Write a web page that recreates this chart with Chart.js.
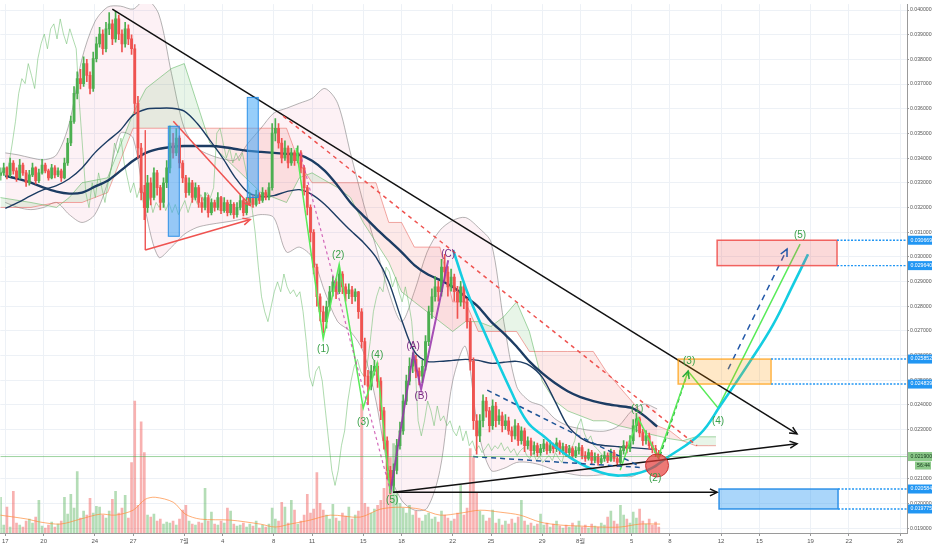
<!DOCTYPE html>
<html><head><meta charset="utf-8">
<script src="https://cdn.jsdelivr.net/npm/chart.js@4.4.1/dist/chart.umd.min.js"></script>
<style>html,body{margin:0;padding:0;background:#fff;}canvas{display:block;}</style>
</head><body>
<canvas id="c" width="932" height="550"></canvas>
<script>
// ---------- time axis ----------
const xTickDays = [0,3,7,10,14,17,21,24,28,31,35,38,42,45,49,52,56,59,63,66,70];
const xTickLabels = ['17','20','24','27','7월','4','8','11','15','18','22','25','29','8월','5','8','12','15','19','22','26'];
const yTickValues = [0.019,0.020,0.021,0.022,0.023,0.024,0.025,0.026,0.027,0.028,0.029,0.030,0.031,0.032,0.033,0.034,0.035,0.036,0.037,0.038,0.039,0.040];
const candleStartDay = -0.375, candleStepDays = 0.25, laggingShiftDays = 4.33;

// ---------- candles ----------
const firstOpen = 0.03330;
const closes = [
0.03340,0.03360,0.03332,0.03380,0.03348,0.03320,0.03372,0.03340,0.03300,0.03332,
0.03360,0.03308,0.03340,0.03372,0.03348,0.03320,0.03360,0.03332,0.03348,0.03320,
0.03380,0.03461,0.03549,0.03662,0.03722,0.03702,0.03783,0.03735,0.03682,0.03803,
0.03863,0.03903,0.03843,0.03924,0.03944,0.03883,0.03964,0.03903,0.03863,0.03924,
0.03883,0.03843,0.03622,0.03441,0.03260,0.03199,0.03300,0.03240,0.03340,0.03280,
0.03220,0.03300,0.03360,0.03461,0.03421,0.03481,0.03380,0.03320,0.03260,0.03300,
0.03240,0.03280,0.03220,0.03200,0.03240,0.03179,0.03220,0.03200,0.03240,0.03187,
0.03220,0.03179,0.03212,0.03171,0.03200,0.03228,0.03179,0.03220,0.03240,0.03212,
0.03252,0.03228,0.03260,0.03240,0.03280,0.03501,0.03521,0.03461,0.03401,0.03441,
0.03380,0.03421,0.03389,0.03421,0.03360,0.03280,0.03200,0.03099,0.02958,0.02838,
0.02777,0.02737,0.02797,0.02858,0.02898,0.02858,0.02930,0.02878,0.02850,0.02866,
0.02838,0.02858,0.02777,0.02656,0.02516,0.02475,0.02536,0.02556,0.02496,0.02375,
0.02254,0.02134,0.02073,0.02134,0.02234,0.02294,0.02415,0.02496,0.02556,0.02584,
0.02536,0.02516,0.02556,0.02656,0.02777,0.02838,0.02878,0.02858,0.02958,0.02938,
0.02878,0.02918,0.02858,0.02817,0.02878,0.02817,0.02737,0.02576,0.02335,0.02274,
0.02335,0.02415,0.02375,0.02315,0.02395,0.02335,0.02355,0.02315,0.02335,0.02294,
0.02274,0.02315,0.02254,0.02294,0.02234,0.02254,0.02214,0.02234,0.02206,0.02222,
0.02242,0.02214,0.02234,0.02222,0.02246,0.02214,0.02230,0.02206,0.02222,0.02194,
0.02214,0.02226,0.02194,0.02182,0.02206,0.02174,0.02190,0.02166,0.02182,0.02194,
0.02174,0.02206,0.02182,0.02166,0.02214,0.02234,0.02222,0.02254,0.02315,0.02343,
0.02286,0.02254,0.02274,0.02234,0.02222,0.02206,0.02190];
const highs = [
0.03360,0.03380,0.03365,0.03400,0.03390,0.03360,0.03395,0.03380,0.03350,0.03350,
0.03380,0.03365,0.03355,0.03395,0.03380,0.03355,0.03375,0.03370,0.03360,0.03355,
0.03400,0.03480,0.03570,0.03690,0.03750,0.03760,0.03810,0.03800,0.03750,0.03830,
0.03890,0.03930,0.03920,0.03950,0.03990,0.03960,0.03995,0.03980,0.03920,0.03950,
0.03940,0.03900,0.03860,0.03650,0.03460,0.03290,0.03330,0.03320,0.03360,0.03350,
0.03290,0.03320,0.03390,0.03530,0.03500,0.03520,0.03490,0.03390,0.03330,0.03320,
0.03310,0.03300,0.03290,0.03240,0.03260,0.03250,0.03235,0.03230,0.03260,0.03245,
0.03240,0.03230,0.03230,0.03220,0.03220,0.03250,0.03235,0.03240,0.03260,0.03250,
0.03270,0.03260,0.03280,0.03270,0.03300,0.03540,0.03560,0.03540,0.03480,0.03470,
0.03450,0.03440,0.03430,0.03450,0.03430,0.03370,0.03290,0.03210,0.03110,0.02970,
0.02850,0.02800,0.02820,0.02880,0.02920,0.02910,0.02955,0.02940,0.02890,0.02890,
0.02880,0.02870,0.02860,0.02790,0.02670,0.02540,0.02560,0.02580,0.02570,0.02510,
0.02390,0.02270,0.02150,0.02160,0.02260,0.02330,0.02440,0.02520,0.02590,0.02610,
0.02600,0.02550,0.02580,0.02680,0.02800,0.02870,0.02920,0.02900,0.02990,0.03010,
0.02960,0.02950,0.02930,0.02880,0.02900,0.02890,0.02830,0.02750,0.02590,0.02360,
0.02360,0.02440,0.02430,0.02390,0.02420,0.02410,0.02380,0.02370,0.02360,0.02350,
0.02310,0.02340,0.02325,0.02310,0.02305,0.02270,0.02265,0.02250,0.02245,0.02240,
0.02260,0.02250,0.02255,0.02245,0.02265,0.02255,0.02245,0.02240,0.02235,0.02230,
0.02230,0.02245,0.02235,0.02210,0.02220,0.02215,0.02205,0.02200,0.02195,0.02210,
0.02205,0.02220,0.02215,0.02195,0.02230,0.02255,0.02250,0.02275,0.02340,0.02365,
0.02350,0.02300,0.02295,0.02285,0.02250,0.02235,0.02215];
const lows = [
0.03310,0.03330,0.03315,0.03325,0.03335,0.03305,0.03315,0.03330,0.03285,0.03290,
0.03325,0.03295,0.03300,0.03335,0.03340,0.03310,0.03315,0.03320,0.03325,0.03305,
0.03315,0.03370,0.03450,0.03540,0.03640,0.03680,0.03690,0.03710,0.03660,0.03670,
0.03790,0.03850,0.03820,0.03830,0.03900,0.03860,0.03870,0.03880,0.03830,0.03850,
0.03860,0.03820,0.03580,0.03400,0.03230,0.03150,0.03180,0.03210,0.03230,0.03250,
0.03190,0.03200,0.03280,0.03340,0.03400,0.03410,0.03360,0.03300,0.03240,0.03250,
0.03220,0.03230,0.03200,0.03180,0.03190,0.03160,0.03170,0.03185,0.03190,0.03175,
0.03180,0.03165,0.03170,0.03155,0.03160,0.03190,0.03165,0.03170,0.03210,0.03200,
0.03205,0.03215,0.03220,0.03230,0.03230,0.03270,0.03470,0.03440,0.03380,0.03390,
0.03360,0.03370,0.03370,0.03380,0.03340,0.03250,0.03170,0.03060,0.02930,0.02800,
0.02740,0.02690,0.02710,0.02780,0.02840,0.02830,0.02850,0.02850,0.02820,0.02830,
0.02810,0.02820,0.02750,0.02630,0.02480,0.02400,0.02460,0.02520,0.02470,0.02340,
0.02220,0.02100,0.02040,0.02050,0.02120,0.02220,0.02280,0.02400,0.02480,0.02530,
0.02510,0.02480,0.02490,0.02540,0.02640,0.02750,0.02820,0.02820,0.02840,0.02900,
0.02840,0.02860,0.02820,0.02750,0.02800,0.02790,0.02710,0.02540,0.02300,0.02200,
0.02250,0.02310,0.02350,0.02290,0.02300,0.02310,0.02320,0.02290,0.02300,0.02280,
0.02250,0.02260,0.02235,0.02240,0.02210,0.02220,0.02195,0.02200,0.02190,0.02195,
0.02210,0.02200,0.02205,0.02205,0.02210,0.02200,0.02200,0.02190,0.02195,0.02180,
0.02185,0.02200,0.02180,0.02170,0.02175,0.02160,0.02165,0.02155,0.02160,0.02170,
0.02165,0.02170,0.02170,0.02150,0.02160,0.02200,0.02205,0.02210,0.02240,0.02290,
0.02270,0.02235,0.02240,0.02220,0.02205,0.02190,0.02180];
const volumes = [
36,8,26,6,42,10,8,6,12,14, 10,16,33,7,5,8,11,6,9,12,
36,19,39,25,62,15,22,18,35,20, 27,26,18,15,22,34,42,20,25,38,
15,71,133,28,112,81,18,16,19,12, 14,9,11,10,12,8,14,23,28,12,
9,8,11,10,45,12,21,9,8,12, 10,25,22,9,7,8,10,6,9,7,
12,5,8,6,9,25,14,12,31,26, 10,33,23,9,12,18,39,20,24,61,
30,23,18,14,29,15,12,20,17,26, 14,18,22,130,30,26,20,24,28,33,
45,60,76,90,40,30,25,20,28,18, 22,15,12,18,20,14,16,11,22,18,
15,12,14,20,48,18,25,85,76,40, 22,18,12,15,23,10,14,8,12,9,
14,10,16,33,12,8,10,7,9,19, 8,10,6,9,12,7,5,8,6,10,
7,12,6,8,5,9,7,6,10,8, 16,22,12,9,28,18,14,10,21,15,
24,12,9,14,8,11,6];
const volumeMADays = [-0.4,1.72,2.74,4.3,5.87,7.43,8.6,10.0,10.95,11.73,13.14,14.08,15.25,17.6,19.94,21.12,22.29,23.85,25.42,27.76,29.33,30.89,32.46,34.02,35.59,37.15,38.71,40.28,41.84,43.41,44.97,46.54,48.1,49.66,51.23];
const volumeMA = [18,14,11,9,14,19,18,23,34,36,31,19,14,13,9,6,9,13,18,16,24,26,24,18,20,23,21,18,11,8,7,6,6,9,9];

// ---------- indicators (one sample per day, day 0 = Jun 17) ----------
const maSlow = [0.03328,0.03316,0.03300,0.03280,0.03264,0.03256,0.03260,0.03284,0.03308,0.03348,0.03389,0.03421,0.03437,0.03445,0.03449,0.03449,0.03449,0.03445,0.03437,0.03429,0.03425,0.03421,0.03417,0.03413,0.03389,0.03348,0.03288,0.03220,0.03167,0.03115,0.03067,0.03019,0.02966,0.02930,0.02906,0.02878,0.02838,0.02797,0.02737,0.02689,0.02636,0.02576,0.02528,0.02488,0.02455,0.02431,0.02415,0.02403,0.02395,0.02387,0.02355,0.02311];
const maFast = [0.03196,0.03220,0.03248,0.03272,0.03288,0.03316,0.03360,0.03421,0.03469,0.03513,0.03574,0.03598,0.03602,0.03602,0.03590,0.03541,0.03473,0.03401,0.03320,0.03260,0.03244,0.03248,0.03264,0.03272,0.03252,0.03212,0.03159,0.03107,0.03059,0.02998,0.02898,0.02745,0.02616,0.02576,0.02576,0.02580,0.02584,0.02580,0.02568,0.02572,0.02576,0.02560,0.02512,0.02415,0.02315,0.02266,0.02242,0.02234,0.02230,0.02226,0.02222,0.02218];
const bbUpper = [0.03421,0.03413,0.03401,0.03393,0.03413,0.03541,0.03803,0.03952,0.04012,0.04016,0.04004,0.04044,0.03984,0.03743,0.03521,0.03441,0.03413,0.03397,0.03393,0.03461,0.03521,0.03582,0.03602,0.03622,0.03642,0.03682,0.03622,0.03421,0.03220,0.03039,0.02858,0.02737,0.02858,0.03019,0.03107,0.03147,0.03159,0.03119,0.03059,0.02737,0.02475,0.02415,0.02395,0.02343,0.02315,0.02303,0.02294,0.02294,0.02315,0.02375,0.02403,0.02383];
const bbLower = [0.03220,0.03200,0.03191,0.03200,0.03220,0.03171,0.03139,0.03171,0.03300,0.03501,0.03481,0.03179,0.02998,0.03039,0.03091,0.03119,0.03131,0.03139,0.03147,0.03159,0.03171,0.03159,0.03019,0.03039,0.02998,0.02858,0.02737,0.02697,0.02616,0.02415,0.02134,0.02013,0.01973,0.01981,0.02134,0.02496,0.02636,0.02294,0.02134,0.02142,0.02166,0.02166,0.02154,0.02134,0.02122,0.02113,0.02113,0.02117,0.02113,0.02109,0.02134,0.02150];
const cloudDays = [-0.4,2,4,5,6,8,10,11,13,14,15,16,18,20,21,22,23,24,26,27,28,29,30,31,32,33,34,35,36,37,38,39,40,41,42,43,44,45,46,47,48,49,50,51,52,53,54,55,55.6];
const spanA = [0.03240,0.03220,0.03200,0.03240,0.03300,0.03320,0.03582,0.03682,0.03763,0.03783,0.03622,0.03461,0.03360,0.03260,0.03240,0.03220,0.03320,0.03340,0.03280,0.03240,0.03139,0.03059,0.02978,0.02858,0.02817,0.02777,0.02737,0.02697,0.02737,0.02737,0.02717,0.02757,0.02817,0.02697,0.02496,0.02415,0.02375,0.02355,0.02335,0.02335,0.02315,0.02303,0.02286,0.02274,0.02262,0.02254,0.02270,0.02270,0.02270];
const spanB = [0.03200,0.03200,0.03220,0.03220,0.03220,0.03260,0.03521,0.03521,0.03521,0.03521,0.03521,0.03521,0.03521,0.03521,0.03521,0.03521,0.03380,0.03300,0.03300,0.03300,0.03300,0.03300,0.03139,0.03139,0.03039,0.03039,0.03039,0.02817,0.02817,0.02697,0.02697,0.02697,0.02697,0.02616,0.02616,0.02616,0.02616,0.02616,0.02616,0.02536,0.02475,0.02415,0.02355,0.02315,0.02294,0.02254,0.02234,0.02234,0.02234];

// ---------- drawings: [day, price] ----------
const mainTrendTop = [[8.37,0.04004],[61.94,0.02282]];
const lowerTrend = [[30.35,0.02045],[61.94,0.02242]];
const supportArrow = [[30.35,0.02045],[55.69,0.02045]];
const redDashedTrend = [[21.74,0.03570],[54.12,0.02234]];
const redWedgeUpper = [[13.14,0.03549],[19.16,0.03208]];
const redWedgeLower = [[10.95,0.03027],[19.16,0.03151]];
const redWedgeEdge = [[10.95,0.03513],[10.95,0.03027]];
const impulseLeft = [[22.76,0.03441],[24.87,0.02668],[26.12,0.02970],[28.0,0.02387],[29.09,0.02568],[30.11,0.02041]];
const channelDashed = [[23.07,0.03421],[30.11,0.02053]];
const abcPath = [[30.11,0.02041],[31.91,0.02608],[32.53,0.02463],[34.65,0.02986]];
const cyanCurve = [[35.04,0.03027],[36.13,0.02858],[37.46,0.02697],[39.50,0.02463],[40.83,0.02331],[42.08,0.02274],[44.19,0.02186],[46.54,0.02126],[48.10,0.02113],[50.21,0.02134],[51.78,0.02186],[54.36,0.02282],[55.92,0.02395],[58.27,0.02576],[60.07,0.02725],[61.63,0.02886],[62.80,0.03010]];
const projectedWaves = [[48.10,0.02134],[49.51,0.02347],[51.07,0.02186],[53.42,0.02536],[55.76,0.02387],[62.18,0.03051]];
const greenDashArrow = [[51.23,0.02194],[53.42,0.02536]];
const blueDashArrow = [[56.55,0.02544],[61.16,0.03031]];
const wedgeUpperDashed = [[37.70,0.02459],[49.66,0.02150]];
const wedgeLowerDashed = [[36.60,0.02190],[49.66,0.02146]];
// zones: [dayFrom, dayTo, priceLow, priceHigh]
const redZone = [55.69,65.07,0.029640,0.030669];
const orangeZone = [52.64,59.91,0.024839,0.025852];
const blueZone = [55.84,65.15,0.019775,0.020584];
const blueBars = [[12.75,13.61,0.03083,0.03529],[18.93,19.79,0.03240,0.03646]];
const targetCircle = [50.99,0.02154];
const greenWaveLabels = [[24.87,0.02624,'(1)'],[26.04,0.03006,'(2)'],[28.0,0.02331,'(3)'],[29.09,0.02600,'(4)'],[30.27,0.02013,'(5)'],[49.43,0.02383,'(1)'],[50.84,0.02101,'(2)'],[53.5,0.02576,'(3)'],[55.76,0.02335,'(4)'],[62.18,0.03087,'(5)']];
const purpleWaveLabels = [[31.91,0.02636,'(A)'],[32.53,0.02435,'(B)'],[34.65,0.03010,'(C)']];
const levelTags = [0.030669,0.029640,0.025852,0.024839,0.020584,0.019775];
const lastPrice = 0.021900;
const countdownText = '56:44';

// ---------- derived ----------
const candleDays = closes.map((_, i) => candleStartDay + i * candleStepDays);
const opens = closes.map((c, i) => i === 0 ? firstOpen : closes[i - 1]);
const UP = 'rgb(76,175,80)', DOWN = 'rgb(239,83,80)';
const candleColors = closes.map((c, i) => c >= opens[i] ? UP : DOWN);
const volColors = closes.map((c, i) => c >= opens[i] ? 'rgba(76,175,80,0.42)' : 'rgba(239,83,80,0.45)');
const dayIdx = maSlow.map((_, i) => i);

const series = (days, vals, style) => Object.assign({type:'line', data: vals.map((v,i)=>({x:days[i], y:v})), pointRadius:0, fill:false, tension:0.3, borderWidth:1, yAxisID:'y'}, style);
const drawing = (arr, style) => Object.assign({type:'line', data: arr.map(([d,p])=>({x:d, y:p})), pointRadius:0, fill:false, tension:0, borderWidth:1.5, order:10, yAxisID:'y'}, style);

const datasets = [
  series(dayIdx, bbUpper, {borderColor:'rgba(130,130,130,0.6)', fill:'+1', backgroundColor:'rgba(240,120,160,0.10)', order:100}),
  series(dayIdx, bbLower, {borderColor:'rgba(130,130,130,0.6)', order:100}),
  series(cloudDays, spanA, {borderColor:'rgba(76,175,80,0.5)', tension:0, fill:{target:'+1', above:'rgba(76,175,80,0.13)', below:'rgba(239,83,80,0.13)'}, order:95}),
  series(cloudDays, spanB, {borderColor:'rgba(239,83,80,0.5)', tension:0, order:95}),
  {type:'bar', yAxisID:'vol', data: volumes.map((v,i)=>({x:candleDays[i], y:v})), backgroundColor: volColors, barThickness:2, grouped:false, order:90},
  series(volumeMADays, volumeMA, {yAxisID:'vol', borderColor:'rgba(255,140,60,0.7)', order:89}),
  {type:'line', yAxisID:'y', data: closes.map((c,i)=>({x:candleDays[i]-laggingShiftDays, y:c})), borderColor:'rgba(110,190,110,0.55)', borderWidth:1, pointRadius:0, tension:0, order:85},
  series(dayIdx, maSlow, {borderColor:'#1c3c63', borderWidth:2.4, order:60}),
  series(dayIdx, maFast, {borderColor:'#1c3c63', borderWidth:1.4, order:60}),
  {type:'bar', yAxisID:'y', data: candleDays.map((d,i)=>({x:d, y:[lows[i], highs[i]]})), backgroundColor: candleColors, barThickness:1, grouped:false, order:50},
  {type:'bar', yAxisID:'y', data: candleDays.map((d,i)=>({x:d, y:[opens[i], closes[i]]})), backgroundColor: candleColors, barThickness:2.2, grouped:false, order:49},
  drawing(channelDashed, {borderColor:'rgba(200,70,170,0.8)', borderDash:[3,3], borderWidth:1.2}),
  drawing(impulseLeft, {borderColor:'rgb(90,235,90)'}),
  drawing(abcPath, {borderColor:'rgba(150,50,170,0.85)', borderWidth:2}),
  drawing(redWedgeEdge, {borderColor:'rgba(239,83,80,0.8)', borderWidth:1}),
  drawing(redWedgeUpper, {borderColor:'rgb(239,83,80)', arrow:true}),
  drawing(redWedgeLower, {borderColor:'rgb(239,83,80)', arrow:true}),
  drawing(redDashedTrend, {borderColor:'rgb(239,83,80)', borderDash:[4,4]}),
  drawing(wedgeUpperDashed, {borderColor:'#1f5597', borderDash:[5,4]}),
  drawing(wedgeLowerDashed, {borderColor:'#1f5597', borderDash:[5,4]}),
  drawing(mainTrendTop, {borderColor:'#111', arrow:true}),
  drawing(lowerTrend, {borderColor:'#111', arrow:true}),
  drawing(supportArrow, {borderColor:'#111', arrow:true}),
  drawing(cyanCurve, {borderColor:'rgb(20,205,225)', borderWidth:2.6, tension:0.4}),
  drawing(projectedWaves, {borderColor:'rgb(90,235,90)'}),
  drawing(greenDashArrow, {borderColor:'rgb(40,170,60)', borderDash:[4,3], arrow:true}),
  drawing(blueDashArrow, {borderColor:'#2358a8', borderDash:[6,5], arrow:true})
];

const FONT = '"Liberation Sans","Noto Sans CJK KR",sans-serif';

const overlay = {
  id: 'overlay',
  afterDatasetsDraw(chart) {
    const {ctx, chartArea:a, scales:{x, y}} = chart;
    const X = v => x.getPixelForValue(v), Y = v => y.getPixelForValue(v);
    ctx.save();
    ctx.beginPath(); ctx.rect(a.left, a.top, a.right - a.left, a.bottom - a.top); ctx.clip();
    // last price line
    ctx.strokeStyle = 'rgba(76,175,80,0.55)'; ctx.lineWidth = 1;
    ctx.beginPath(); ctx.moveTo(a.left, Y(lastPrice)); ctx.lineTo(a.right, Y(lastPrice)); ctx.stroke();
    // zones
    const zone = (z, fill, stroke) => {
      const x1 = X(z[0]), x2 = X(z[1]), y1 = Y(z[3]), y2 = Y(z[2]);
      ctx.fillStyle = fill; ctx.fillRect(x1, y1, x2 - x1, y2 - y1);
      ctx.strokeStyle = stroke; ctx.lineWidth = 1.5; ctx.setLineDash([]);
      ctx.strokeRect(x1, y1, x2 - x1, y2 - y1);
      ctx.strokeStyle = '#2196f3'; ctx.lineWidth = 1.4; ctx.setLineDash([2, 1.5]);
      [z[2], z[3]].forEach(p => { ctx.beginPath(); ctx.moveTo(x2, Y(p)); ctx.lineTo(a.right, Y(p)); ctx.stroke(); });
      ctx.setLineDash([]);
    };
    zone(redZone, 'rgba(239,83,80,0.22)', 'rgba(239,83,80,0.9)');
    zone(orangeZone, 'rgba(255,152,0,0.22)', 'rgba(255,152,0,0.7)');
    zone(blueZone, 'rgba(66,165,245,0.45)', 'rgba(30,136,229,0.9)');
    blueBars.forEach(b => {
      const x1 = X(b[0]), x2 = X(b[1]), y1 = Y(b[3]), y2 = Y(b[2]);
      ctx.fillStyle = 'rgba(66,165,245,0.55)'; ctx.fillRect(x1, y1, x2 - x1, y2 - y1);
      ctx.strokeStyle = 'rgba(30,136,229,0.9)'; ctx.lineWidth = 1; ctx.strokeRect(x1, y1, x2 - x1, y2 - y1);
    });
    // circle
    ctx.beginPath(); ctx.arc(X(targetCircle[0]), Y(targetCircle[1]), 11.5, 0, Math.PI * 2);
    ctx.fillStyle = 'rgba(229,57,53,0.68)'; ctx.fill();
    ctx.strokeStyle = 'rgba(198,40,40,0.9)'; ctx.lineWidth = 1; ctx.stroke();
    // arrowheads
    chart.data.datasets.forEach((ds, i) => {
      if (!ds.arrow) return;
      const pts = chart.getDatasetMeta(i).data, n = pts.length;
      const p1 = pts[n - 2], p2 = pts[n - 1];
      const ang = Math.atan2(p2.y - p1.y, p2.x - p1.x), L = 8;
      ctx.strokeStyle = ds.borderColor; ctx.lineWidth = 1.5; ctx.setLineDash([]);
      ctx.beginPath();
      ctx.moveTo(p2.x - L * Math.cos(ang - 0.45), p2.y - L * Math.sin(ang - 0.45));
      ctx.lineTo(p2.x, p2.y);
      ctx.lineTo(p2.x - L * Math.cos(ang + 0.45), p2.y - L * Math.sin(ang + 0.45));
      ctx.stroke();
    });
    // wave labels
    ctx.font = '10px ' + FONT; ctx.textAlign = 'center'; ctx.textBaseline = 'middle';
    ctx.fillStyle = 'rgb(56,160,72)';
    greenWaveLabels.forEach(([d, p, t]) => ctx.fillText(t, X(d), Y(p)));
    ctx.fillStyle = 'rgb(120,40,130)';
    purpleWaveLabels.forEach(([d, p, t]) => ctx.fillText(t, X(d), Y(p)));
    ctx.restore();
  },
  afterDraw(chart) {
    const {ctx, chartArea:a, scales:{y}} = chart;
    const W = chart.width;
    ctx.save();
    ctx.font = '5.2px ' + FONT; ctx.textAlign = 'left'; ctx.textBaseline = 'middle';
    const tag = (p, bg, fg, text) => {
      const py = Y(p);
      ctx.fillStyle = bg; ctx.fillRect(a.right + 1, py - 4.5, W - a.right - 1, 9);
      ctx.fillStyle = fg; ctx.fillText(text, a.right + 3.5, py);
    };
    function Y(v) { return y.getPixelForValue(v); }
    levelTags.forEach(p => tag(p, '#2196f3', '#fff', p.toFixed(6)));
    tag(lastPrice, '#8cc98a', '#13361a', lastPrice.toFixed(6));
    const cy = Y(lastPrice) + 9;
    ctx.fillStyle = '#8cc98a'; ctx.fillRect(a.right + 8, cy - 4, W - a.right - 9, 8);
    ctx.fillStyle = '#13361a'; ctx.fillText(countdownText, a.right + 10, cy);
    ctx.restore();
  }
};

const xMin = -0.391, xMax = 70.545, yMin = 0.018801, yMax = 0.040241;

new Chart(document.getElementById('c'), {
  type: 'bar',
  data: { datasets },
  plugins: [overlay],
  options: {
    responsive: false, animation: false, devicePixelRatio: 1,
    layout: { padding: 0 },
    plugins: { legend: { display: false }, tooltip: { enabled: false } },
    scales: {
      x: {
        type: 'linear', min: xMin, max: xMax, offset: false,
        grid: { color: '#edf1f6', offset: false, tickLength: 3, tickColor: '#999' },
        border: { color: '#9a9a9a' },
        afterBuildTicks: s => { s.ticks = xTickDays.map(v => ({ value: v })); },
        afterFit: s => { s.height = 17; },
        ticks: { autoSkip: false, maxRotation: 0, padding: 2, color: '#555', font: { size: 6, family: FONT },
          callback: (v, i) => xTickLabels[i] }
      },
      y: {
        type: 'linear', position: 'right', min: yMin, max: yMax,
        grid: { color: '#edf1f6', tickLength: 2, tickColor: '#999' },
        border: { color: '#9a9a9a' },
        afterBuildTicks: s => { s.ticks = yTickValues.map(v => ({ value: v })); },
        afterFit: s => { s.width = 25; },
        ticks: { padding: 1, color: '#555', font: { size: 5.2, family: FONT }, callback: v => v.toFixed(6) }
      },
      vol: { type: 'linear', display: false, min: 0, max: 533 }
    }
  }
});
</script>
</body></html>
